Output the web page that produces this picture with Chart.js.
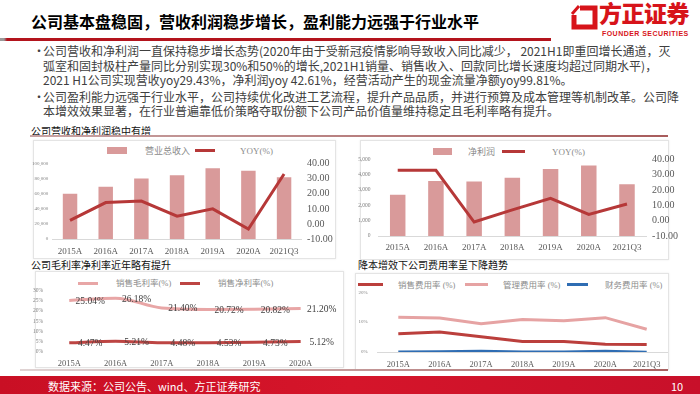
<!DOCTYPE html>
<html><head><meta charset="utf-8">
<script src="https://cdn.jsdelivr.net/npm/chart.js@4"></script>
<style>
html,body{margin:0;padding:0;background:#fff;}
#page{position:relative;width:700px;height:394px;overflow:hidden;background:#fff;font-family:"Noto Sans CJK SC","Noto Sans",sans-serif;}
.abs{position:absolute;white-space:nowrap;}
.panel{position:absolute;border:1px solid #e4e4e4;box-shadow:0 0 2px rgba(0,0,0,0.08);background:#fff;}
.bl{position:absolute;white-space:nowrap;font-size:12px;line-height:14px;color:#404040;}
.ct{position:absolute;white-space:nowrap;font-size:10px;line-height:12px;color:#111;}
.lg{position:absolute;white-space:nowrap;font-family:"Liberation Serif","Noto Sans CJK SC",serif;color:#8c8c8c;line-height:12px;}
.sw{position:absolute;}
canvas{position:absolute;}
</style></head>
<body><div id="page">
  <div class="abs" style="left:31px;top:11px;font-size:16px;line-height:20px;font-weight:700;color:#000;">公司基本盘稳固，营收利润稳步增长，盈利能力远强于行业水平</div>
  <div class="abs" style="left:0;top:38px;width:551px;height:3px;background:linear-gradient(to right,#9a9a9a 0,#9a9a9a 4px,#b3141d 7px,#b3141d 100%);"></div>
  <svg class="abs" style="left:570px;top:4px;" width="30" height="26" viewBox="0 0 30 26">
    <path d="M10 4 H25 V23 H4 V11" fill="none" stroke="#d7141a" stroke-width="5" stroke-linejoin="miter"/>
    <path d="M2 10 L9 2" stroke="#d7141a" stroke-width="3"/>
  </svg>
  <div class="abs" style="left:599px;top:-1px;font-size:23px;line-height:26px;font-weight:900;color:#d7141a;letter-spacing:-0.5px;">方正证券</div>
  <div class="abs" style="left:602px;top:30px;font-family:'Liberation Sans',sans-serif;font-size:7px;line-height:8px;font-weight:700;color:#d7141a;letter-spacing:0.45px;">FOUNDER SECURITIES</div>

  <div class="bl" style="left:33px;top:44px;">•</div>
  <div class="bl" style="left:43px;top:44px;">公司营收和净利润一直保持稳步增长态势(2020年由于受新冠疫情影响导致收入同比减少， 2021H1即重回增长通道，灭</div>
  <div class="bl" style="left:43px;top:59px;">弧室和固封极柱产量同比分别实现30%和50%的增长,2021H1销量、销售收入、回款同比增长速度均超过同期水平)，</div>
  <div class="bl" style="left:43px;top:73px;">2021 H1公司实现营收yoy29.43%，净利润yoy 42.61%，经营活动产生的现金流量净额yoy99.81%。</div>
  <div class="bl" style="left:33px;top:90px;">•</div>
  <div class="bl" style="left:43px;top:90px;">公司盈利能力远强于行业水平，公司持续优化改进工艺流程，提升产品品质，并进行预算及成本管理等机制改革。公司降</div>
  <div class="bl" style="left:43px;top:104px;">本增效效果显著，在行业普遍靠低价策略夺取份额下公司产品价值量维持稳定且毛利率略有提升。</div>

  <div class="ct" style="left:31px;top:125px;">公司营收和净利润稳中有增</div>
  <div class="abs" style="left:30px;top:135px;width:638px;height:2px;background:linear-gradient(to right,#c8a4a4,#a85c5c);"></div>
  <div class="panel" style="left:33px;top:140px;width:301px;height:117px;"></div>
  <div class="panel" style="left:360px;top:140px;width:307px;height:118px;"></div>

  <div class="ct" style="left:31px;top:259px;">公司毛利率净利率近年略有提升</div>
  <div class="ct" style="left:358px;top:259px;">降本增效下公司费用率呈下降趋势</div>
  <div class="panel" style="left:35px;top:271px;width:307px;height:95px;"></div>
  <div class="panel" style="left:355px;top:273px;width:312px;height:95px;"></div>
  <div class="abs" style="left:20px;top:369px;width:648px;height:2px;background:linear-gradient(to right,#e0d4d4,#a86060);"></div>

  <!-- legends -->
  <div class="sw" style="left:107px;top:147px;width:20px;height:7px;background:#d99a9a;"></div>
  <div class="lg" style="left:145px;top:145px;font-size:9px;">营业总收入</div>
  <div class="sw" style="left:195px;top:149px;width:20px;height:3px;background:#b63838;"></div>
  <div class="lg" style="left:240px;top:145px;font-size:9px;">YOY(%)</div>

  <div class="sw" style="left:433px;top:148px;width:19px;height:7px;background:#d99a9a;"></div>
  <div class="lg" style="left:468px;top:146px;font-size:9px;">净利润</div>
  <div class="sw" style="left:502px;top:150px;width:23px;height:3px;background:#b63838;"></div>
  <div class="lg" style="left:552px;top:146px;font-size:9px;">YOY(%)</div>

  <div class="sw" style="left:78px;top:282px;width:20px;height:3px;background:#e8a6a6;"></div>
  <div class="lg" style="left:116px;top:277px;font-size:8.5px;">销售毛利率(%)</div>
  <div class="sw" style="left:180px;top:282px;width:20px;height:3px;background:#bd4543;"></div>
  <div class="lg" style="left:218px;top:277px;font-size:8.5px;">销售净利率(%)</div>

  <div class="sw" style="left:358px;top:283px;width:25px;height:3px;background:#bb3f3c;"></div>
  <div class="lg" style="left:398px;top:279px;font-size:8.5px;">销售费用率 (%)</div>
  <div class="sw" style="left:465px;top:283px;width:23px;height:3px;background:#e6a3a3;"></div>
  <div class="lg" style="left:503px;top:279px;font-size:8.5px;">管理费用率 (%)</div>
  <div class="sw" style="left:567px;top:283px;width:21px;height:3px;background:#2f6db3;"></div>
  <div class="lg" style="left:605px;top:279px;font-size:8.5px;">财务费用率 (%)</div>

  <canvas id="c1" width="320" height="120" style="left:30px;top:140px;"></canvas>
  <canvas id="c2" width="330" height="120" style="left:350px;top:140px;"></canvas>
  <canvas id="c3" width="312" height="96" style="left:33px;top:272px;"></canvas>
  <canvas id="c4" width="328" height="98" style="left:352px;top:272px;"></canvas>

  <div class="abs" style="left:0;top:376px;width:700px;height:18px;background:linear-gradient(to right,#c90f24,#d5152a 50%,#c8102a);"></div>
  <div class="abs" style="left:48px;top:379px;font-size:11px;line-height:14px;color:#fff;">数据来源：公司公告、wind、方正证券研究</div>
  <div class="abs" style="left:671px;top:379px;font-size:11px;line-height:14px;color:#fff;">10</div>
</div>
<script>
const years7 = ['2015A','2016A','2017A','2018A','2019A','2020A','2021Q3'];
const years6 = ['2015A','2016A','2017A','2018A','2019A','2020A'];
const revenue = [60200, 69400, 80400, 84800, 93800, 90700, 82000];
const revenueYoy = [2.4, 14.2, 15.2, 5.2, 10.0, -3.4, 33.2];
const netProfit = [2690, 3580, 3550, 3800, 4370, 4590, 3370];
const netProfitYoy = [32.8, 32.8, -0.9, 7.0, 14.6, 4.1, 10.9];
const grossMargin = [25.04, 26.18, 21.40, 20.72, 20.82, 21.20];
const netMargin = [4.47, 5.21, 4.48, 4.53, 4.73, 5.12];
const sellingRate = [6.1, 6.7, 5.1, 3.5, 3.5, 2.6, 2.5];
const adminRate = [11.6, 11.4, 9.5, 10.9, 10.5, 11.5, 7.6];
const financeRate = [0.1, 0.2, 0.3, 0.1, 0.1, 0.3, 0.0];

Chart.defaults.font.family = '"Liberation Serif", serif';
Chart.defaults.animation = false;
Chart.defaults.plugins.legend.display = false;
Chart.defaults.plugins.tooltip.enabled = false;

const noGrid = {display:false, drawTicks:false};
function fitW(w){ return s => { s.width = w; }; }
function fitH(h){ return s => { s.height = h; }; }

function comboChart(id, values, yoy, leftMax, leftStep, lFont, dims){
  new Chart(document.getElementById(id), {
    type:'bar',
    data:{labels:years7, datasets:[
      {type:'line', data:yoy, yAxisID:'y1', borderColor:'#b63838', borderWidth:3, pointRadius:0, tension:0, order:0},
      {type:'bar', data:values, yAxisID:'y', backgroundColor:'#d99a9a', barPercentage:0.78, categoryPercentage:0.52, order:1}
    ]},
    options:{
      responsive:false, devicePixelRatio:1,
      layout:{padding:{top:dims.top, left:0, right:0, bottom:0}},
      scales:{
        x:{grid:noGrid, border:{display:true, color:'#d9d9d9'}, afterFit:fitH(dims.xh),
           ticks:{color:'#595959', font:{size:9}, padding:dims.xpad, maxRotation:0, autoSkip:false}},
        y:{position:'left', min:0, max:leftMax, grid:noGrid, border:{display:false}, afterFit:fitW(dims.lw),
           ticks:{stepSize:leftStep, color:'#7f7f7f', font:{size:lFont}, padding:dims.lpad}},
        y1:{position:'right', min:-10, max:40, grid:noGrid, border:{display:false}, afterFit:fitW(dims.rw),
           ticks:{stepSize:10, color:'#595959', font:{size:10}, padding:dims.rpad, callback:v=>v.toFixed(2)}}
      }
    }
  });
}
comboChart('c1', revenue, revenueYoy, 100000, 20000, 5, {top:23.7, xh:21, xpad:7, lw:22.2, lpad:4, rw:48.1, rpad:5});
comboChart('c2', netProfit, netProfitYoy, 5000, 1000, 5.5, {top:19.3, xh:24, xpad:6, lw:28.6, lpad:8, rw:33.9, rpad:6});

const pointLabels = {
  id:'pointLabels',
  afterDatasetsDraw(chart){
    const ctx = chart.ctx;
    ctx.save();
    ctx.font = '9.5px "Liberation Serif", serif';
    ctx.fillStyle = '#404040';
    ctx.textAlign = 'center';
    ctx.textBaseline = 'middle';
    chart.data.datasets.forEach((ds,i)=>{
      chart.getDatasetMeta(i).data.forEach((pt,j)=>{
        ctx.fillText(ds.data[j].toFixed(2)+'%', pt.x+21, pt.y+1);
      });
    });
    ctx.restore();
  }
};

new Chart(document.getElementById('c3'), {
  type:'line',
  data:{labels:years6, datasets:[
    {data:grossMargin, borderColor:'#e8a6a6', borderWidth:3, pointRadius:0, cubicInterpolationMode:'monotone'},
    {data:netMargin, borderColor:'#bd4543', borderWidth:3, pointRadius:0, cubicInterpolationMode:'monotone'}
  ]},
  options:{
    responsive:false, devicePixelRatio:1,
    layout:{padding:{top:18.3, left:0, right:21.2, bottom:0}},
    scales:{
      x:{offset:true, grid:noGrid, border:{display:false}, afterFit:fitH(16),
         ticks:{color:'#595959', font:{size:8.5}, padding:7, maxRotation:0, autoSkip:false}},
      y:{min:0, max:30, grid:noGrid, border:{display:false}, afterFit:fitW(13.1),
         ticks:{stepSize:5, color:'#7f7f7f', font:{size:5.5}, padding:3, callback:v=>v+'%'}}
    }
  },
  plugins:[pointLabels]
});

new Chart(document.getElementById('c4'), {
  type:'line',
  data:{labels:years7, datasets:[
    {data:financeRate, borderColor:'#2f6db3', borderWidth:2.5, pointRadius:0, tension:0},
    {data:adminRate, borderColor:'#e6a3a3', borderWidth:3, pointRadius:0, tension:0},
    {data:sellingRate, borderColor:'#bb3f3c', borderWidth:3, pointRadius:0, tension:0}
  ]},
  options:{
    responsive:false, devicePixelRatio:1,
    layout:{padding:{top:20.3, left:0, right:12.6, bottom:0}},
    scales:{
      x:{offset:true, grid:noGrid, border:{display:true, color:'#d9d9d9'}, afterFit:fitH(18),
         ticks:{color:'#595959', font:{size:8.5}, padding:8, maxRotation:0, autoSkip:false}},
      y:{min:0, max:20, grid:noGrid, border:{display:false}, afterFit:fitW(25.6),
         ticks:{stepSize:10, color:'#7f7f7f', font:{size:5}, padding:10, callback:v=>v+'%'}}
    }
  }
});
</script>
</body></html>
